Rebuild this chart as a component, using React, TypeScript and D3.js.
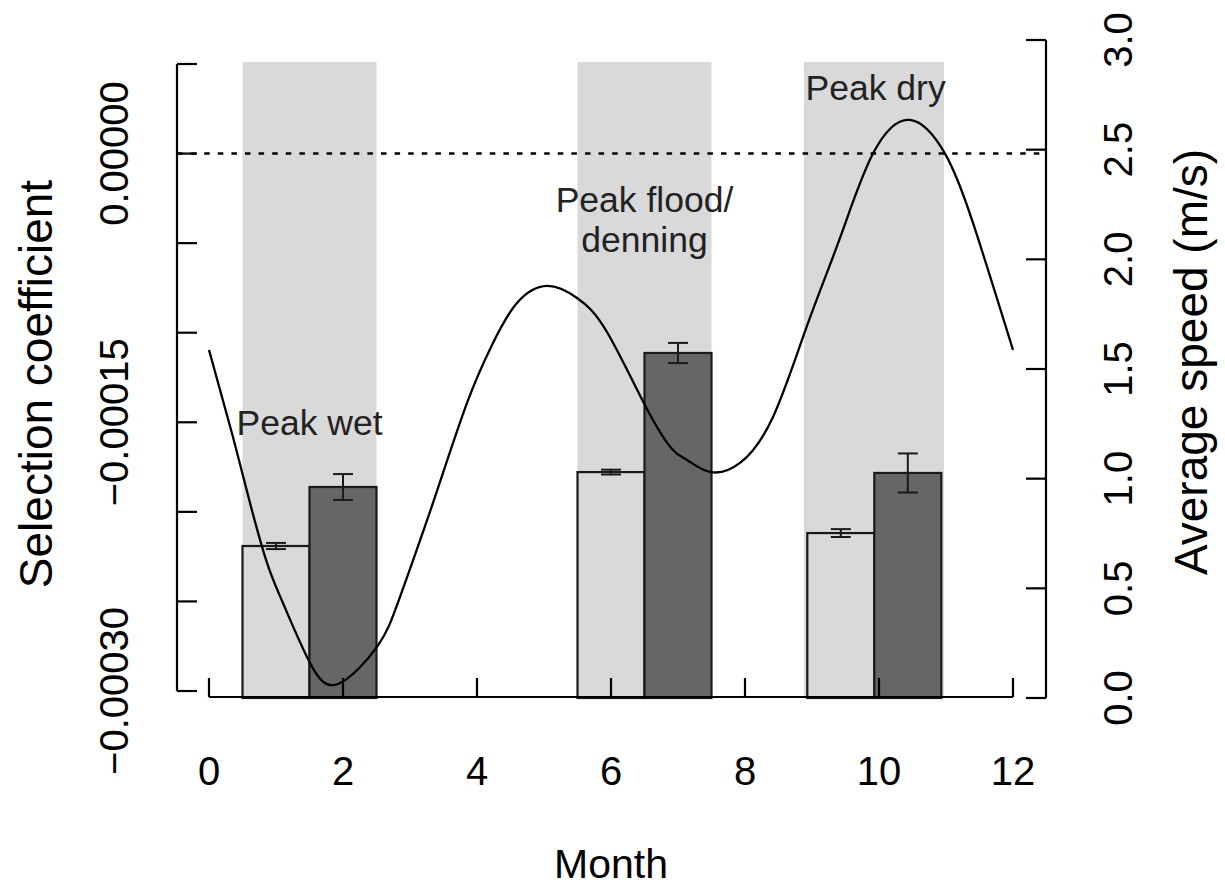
import React from "react";
import * as d3 from "d3";

// ---------- data ----------
const monthTicks = [0, 2, 4, 6, 8, 10, 12];
const selTicks = [0.00005, 0, -0.00005, -0.0001, -0.00015, -0.0002, -0.00025, -0.0003];
const selLabelTicks = [0, -0.00015, -0.0003];
const selLabels = ["0.00000", "\u22120.00015", "\u22120.00030"];
const speedTicks = [0, 0.5, 1, 1.5, 2, 2.5, 3];
const speedLabels = ["0.0", "0.5", "1.0", "1.5", "2.0", "2.5", "3.0"];

// shaded seasons (months)
const shadeStart = [0.5, 5.5, 8.88];
const shadeEnd = [2.5, 7.5, 10.97];
const shadeTop = 2.9; // speed units

// bars: light (first) and dark (second) of each pair, each one month wide
const barStart = [0.5, 5.5, 8.93];
const lightSpeed = [0.693, 1.03, 0.752];
const lightErr = [0.014, 0.011, 0.018];
const darkSpeed = [0.962, 1.573, 1.026];
const darkErr = [0.059, 0.046, 0.089];

// selection coefficient curve (month, value)
const curveMonth = [0, 0.358, 0.612, 0.866, 1.104, 1.507, 1.925, 2.507, 2.851, 3.343, 3.851, 4.239, 4.597, 5.045, 5.493, 5.94, 6.537, 6.925, 7.134, 7.478, 7.925, 8.418, 8.925, 9.418, 9.91, 10.463, 10.985, 11.403, 12];
const curveSel = [-0.0001096, -0.0001582, -0.000195, -0.0002285, -0.0002509, -0.0002843, -0.0002961, -0.0002754, -0.0002475, -0.000195, -0.0001392, -0.0001057, -0.0000834, -0.0000739, -0.0000806, -0.0000996, -0.0001426, -0.0001655, -0.000171, -0.0001777, -0.0001727, -0.000147, -0.0000962, -0.0000471, 0.0, 0.0000188, 0.0, -0.0000387, -0.0001096];

const annotations = [
  { month: 1.5, lines: ["Peak wet"], y0: 435 },
  { month: 6.5, lines: ["Peak flood/", "denning"], y0: 212 },
  { month: 9.95, lines: ["Peak dry"], y0: 100 },
];

// ---------- layout ----------
const W = 1225;
const H = 886;
const FONT = "'Liberation Sans', Arial, Helvetica, sans-serif";

export default function App() {
  const x = d3.scaleLinear().domain([0, 12]).range([209, 1013]);
  const yS = d3.scaleLinear().domain([0, 3]).range([698, 40]);
  const yL = d3.scaleLinear().domain([-0.0003, 0.00005]).range([691, 64]);
  const plotLeft = 177;
  const plotRight = 1046;
  const xAxisY = yS(0) - 1;

  const line = d3
    .line<number>()
    .x((_, i) => x(curveMonth[i]))
    .y((d) => yL(d))
    .curve(d3.curveNatural);

  const capHalf = 10;

  return (
    <svg
      width={W}
      height={H}
      style={{ position: "absolute", left: 0, top: 0, background: "#fff" }}
      fontFamily={FONT}
    >
      <rect x={0} y={0} width={W} height={H} fill="#fff" />
      {/* shading */}
      {shadeStart.map((s, i) => (
        <rect
          key={"sh" + i}
          x={x(s)}
          y={yS(shadeTop)}
          width={x(shadeEnd[i]) - x(s)}
          height={yS(0) - yS(shadeTop)}
          fill="#d9d9d9"
        />
      ))}
      {/* bars */}
      {barStart.map((s, i) => (
        <g key={"b" + i}>
          <rect
            x={x(s)}
            y={yS(lightSpeed[i])}
            width={x(s + 1) - x(s)}
            height={yS(0) - yS(lightSpeed[i])}
            fill="#d9d9d9"
            stroke="#1a1a1a"
            strokeWidth={2.2}
          />
          <rect
            x={x(s + 1)}
            y={yS(darkSpeed[i])}
            width={x(s + 2) - x(s + 1)}
            height={yS(0) - yS(darkSpeed[i])}
            fill="#666666"
            stroke="#1a1a1a"
            strokeWidth={2.2}
          />
        </g>
      ))}
      {/* error bars */}
      {barStart.map((s, i) => {
        const items = [
          { cx: x(s + 0.5), v: lightSpeed[i], e: lightErr[i] },
          { cx: x(s + 1.5), v: darkSpeed[i], e: darkErr[i] },
        ];
        return items.map((it, j) => (
          <g key={"e" + i + "-" + j} stroke="#1a1a1a" strokeWidth={2}>
            <line x1={it.cx} x2={it.cx} y1={yS(it.v + it.e)} y2={yS(it.v - it.e)} />
            <line x1={it.cx - capHalf} x2={it.cx + capHalf} y1={yS(it.v + it.e)} y2={yS(it.v + it.e)} />
            <line x1={it.cx - capHalf} x2={it.cx + capHalf} y1={yS(it.v - it.e)} y2={yS(it.v - it.e)} />
          </g>
        ));
      })}
      {/* curve */}
      <path d={line(curveSel) || ""} fill="none" stroke="#000" strokeWidth={2.3} />
      {/* dashed zero line */}
      <line
        x1={plotLeft}
        x2={plotRight}
        y1={yL(0)}
        y2={yL(0)}
        stroke="#000"
        strokeWidth={2.5}
        strokeDasharray="5.5 8.1"
      />
      {/* bottom axis */}
      <g stroke="#000" strokeWidth={2.2}>
        <line x1={x(0)} x2={x(12)} y1={xAxisY} y2={xAxisY} />
        {monthTicks.map((t) => (
          <line key={"xt" + t} x1={x(t)} x2={x(t)} y1={xAxisY} y2={xAxisY - 19} />
        ))}
      </g>
      {monthTicks.map((t) => (
        <text key={"xl" + t} x={x(t)} y={785} fontSize={40} textAnchor="middle" fill="#000">
          {t}
        </text>
      ))}
      {/* left axis */}
      <g stroke="#000" strokeWidth={2.2}>
        <line x1={plotLeft} x2={plotLeft} y1={yL(selTicks[0])} y2={yL(selTicks[selTicks.length - 1])} />
        {selTicks.map((t) => (
          <line key={"lt" + t} x1={plotLeft} x2={plotLeft + 20} y1={yL(t)} y2={yL(t)} />
        ))}
      </g>
      {selLabelTicks.map((t, i) => (
        <text
          key={"ll" + i}
          transform={`translate(128,${yL(t)}) rotate(-90)`}
          fontSize={40}
          textAnchor="middle"
          fill="#000"
        >
          {selLabels[i]}
        </text>
      ))}
      {/* right axis */}
      <g stroke="#000" strokeWidth={2.2}>
        <line x1={plotRight} x2={plotRight} y1={yS(3)} y2={yS(0)} />
        {speedTicks.map((t) => (
          <line key={"rt" + t} x1={plotRight} x2={plotRight - 20} y1={yS(t)} y2={yS(t)} />
        ))}
      </g>
      {speedTicks.map((t, i) => (
        <text
          key={"rl" + i}
          transform={`translate(1132,${yS(t)}) rotate(-90)`}
          fontSize={40}
          textAnchor="middle"
          fill="#000"
        >
          {speedLabels[i]}
        </text>
      ))}
      {/* axis titles */}
      <text x={611} y={878} fontSize={41} textAnchor="middle" fill="#000">
        Month
      </text>
      <text transform="translate(52,384) rotate(-90)" fontSize={46} textAnchor="middle" fill="#000">
        Selection coefficient
      </text>
      <text transform="translate(1207,362) rotate(-90)" fontSize={46} textAnchor="middle" fill="#000">
        Average speed (m/s)
      </text>
      {/* annotations */}
      {annotations.map((a, i) =>
        a.lines.map((ln, j) => (
          <text
            key={"a" + i + "-" + j}
            x={x(a.month)}
            y={a.y0 + j * 40}
            fontSize={35.5}
            textAnchor="middle"
            fill="#222"
          >
            {ln}
          </text>
        ))
      )}
    </svg>
  );
}
